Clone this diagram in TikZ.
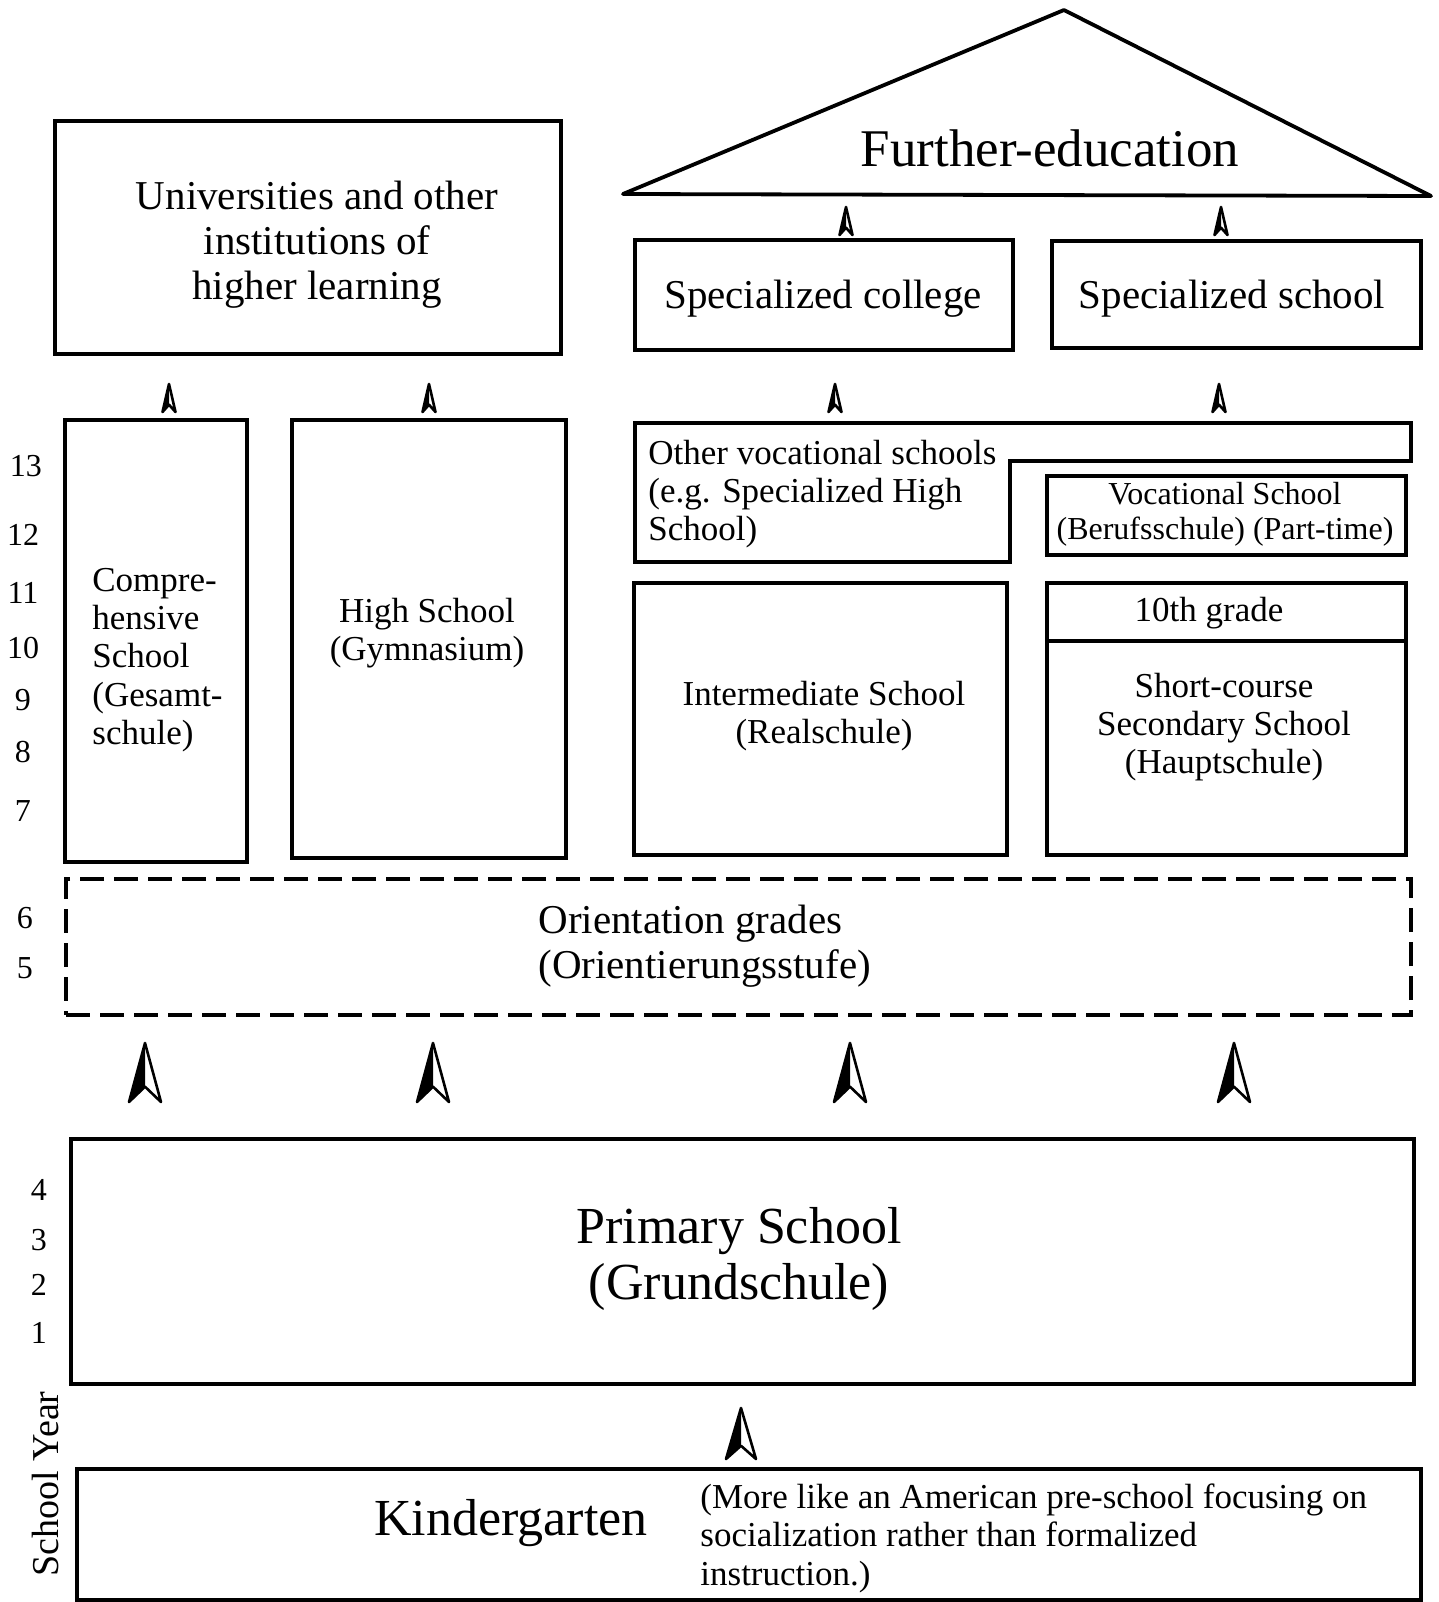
\documentclass[tikz,border=0pt]{standalone}
\usepackage{fontspec}
\setmainfont{Liberation Serif}
\usetikzlibrary{fit}

\newcommand\fsz[2]{\fontsize{#1}{#2}\selectfont}

\tikzset{
  upmark/.pic={
    \draw[line width=1.3pt, line join=round, fill=white]
      (0,1) -- (0.5,0) -- (0,0.26) -- (-0.5,0) -- cycle;
    \fill (0,1) -- (-0.5,0) -- (0,0.26) -- cycle;
  }
}

\begin{document}
\begin{tikzpicture}[x=0.5pt,y=-0.5pt,
  box/.style={draw, line width=1.7pt, inner sep=0pt},
  dbox/.style={box, dash pattern=on 12pt off 5pt},
  lbl/.style={inner sep=0pt, align=center},
  hugetxt/.style={font=\fsz{26}{28}},
  bigtxt/.style={font=\fsz{20.5}{22.5}},
  midtxt/.style={font=\fsz{17.5}{19.2}},
  smalltxt/.style={font=\fsz{16}{17.5}},
  yeartxt/.style={inner sep=0pt, font=\fsz{16}{18}},
  smallmark/.style={x=6.5pt, y=14pt},
  largemark/.style={x=16pt, y=29.5pt}
]
\fill[white] (0,0) rectangle (1439,1602);
\useasboundingbox (0,0) rectangle (1439,1602);

% roof of further education
\draw[line width=1.9pt, line join=round] (623,194) -- (1064,10) -- (1431,196) -- cycle;
\node[lbl, font=\fsz{26.5}{28}] (further) at (1050,148) {Further-education};

% top row
\node[box, fit={(55,121) (561,354)}] (uni) {};
\node[lbl, bigtxt] (unit) at (317,245) {Universities and other\\institutions of\\higher learning};
\node[box, fit={(635,240) (1013,350)}] (scol) {};
\node[lbl, bigtxt] (scolt) at (823,299) {Specialized college};
\node[box, fit={(1052,241) (1421,348)}] (ssch) {};
\node[lbl, bigtxt] (sscht) at (1232,299) {Specialized school};

% secondary schools
\node[box, fit={(65,420) (247,862)}] (comp) {};
\node[lbl, midtxt, align=left, anchor=west] (compt) at (92,660)
  {Compre-\\hensive\\School\\(Gesamt-\\schule)};
\node[box, fit={(292,420) (566,858)}] (gym) {};
\node[lbl, midtxt] (gymt) at (427,633) {High School\\(Gymnasium)};

\draw[line width=1.7pt, line join=miter]
  (635,423) -- (1411,423) -- (1411,461) -- (1010,461) -- (1010,562) -- (635,562) -- cycle;
\coordinate (ovs) at (635,423);
\node[lbl, midtxt, align=left, anchor=west] (ovst) at (648,494)
  {Other vocational schools\\(e.g. Specialized High\\School)};
\node[box, fit={(1047,476) (1406,555)}] (beruf) {};
\node[lbl, smalltxt] (beruft) at (1225,514) {Vocational School\\(Berufsschule) (Part-time)};

\node[box, fit={(634,583) (1007,855)}] (real) {};
\node[lbl, midtxt] (realt) at (824,716) {Intermediate School\\(Realschule)};
\node[box, fit={(1047,583) (1406,855)}] (haupt) {};
\draw[line width=1.7pt] (1047,641) -- (1406,641);
\node[lbl, midtxt] (tenth) at (1209,613) {10th grade};
\node[lbl, midtxt] (hauptt) at (1224,727) {Short-course\\Secondary School\\(Hauptschule)};

% orientation grades
\node[dbox, fit={(66,879) (1411,1015)}] (orient) {};
\node[lbl, bigtxt, align=left, anchor=west] (orientt) at (538,946)
  {Orientation grades\\(Orientierungsstufe)};

% primary and kindergarten
\node[box, fit={(71,1139) (1414,1384)}] (prim) {};
\node[lbl, hugetxt] (primt) at (739,1259) {Primary School\\(Grundschule)};
\node[box, fit={(77,1469) (1421,1600)}] (kind) {};
\node[lbl, hugetxt] (kindt) at (511,1523) {Kindergarten};
\node[lbl, midtxt, align=left, anchor=west] (kindnote) at (700,1538)
  {(More like an American pre-school focusing on\\socialization rather than formalized\\instruction.)};

% arrowheads between the levels
\coordinate (m1) at (846,235);
\coordinate (m2) at (1221,235);
\coordinate (m3) at (169,412);
\coordinate (m4) at (429,412);
\coordinate (m5) at (835,412);
\coordinate (m6) at (1219,412);
\coordinate (m7) at (145,1102);
\coordinate (m8) at (433,1102);
\coordinate (m9) at (850,1102);
\coordinate (m10) at (1234,1102);
\coordinate (m11) at (741,1459);
\foreach \m in {m1,m2,m3,m4,m5,m6}
  \pic[smallmark] at (\m) {upmark};
\foreach \m in {m7,m8,m9,m10}
  \pic[largemark] at (\m) {upmark};
\pic[x=15pt, y=25.5pt] at (m11) {upmark};

% school years
\node[yeartxt] (y13) at (26,466) {13};
\node[yeartxt] (y12) at (23,535) {12};
\node[yeartxt] (y11) at (23,593) {11};
\node[yeartxt] (y10) at (23,648) {10};
\node[yeartxt] (y9) at (23,700) {9};
\node[yeartxt] (y8) at (23,752) {8};
\node[yeartxt] (y7) at (23,811) {7};
\node[yeartxt] (y6) at (25,918) {6};
\node[yeartxt] (y5) at (25,968) {5};
\node[yeartxt] (y4) at (39,1190) {4};
\node[yeartxt] (y3) at (39,1240) {3};
\node[yeartxt] (y2) at (39,1285) {2};
\node[yeartxt] (y1) at (39,1333) {1};
\node[lbl, font=\fsz{19}{20}, rotate=90] (syear) at (46,1484) {School Year};
\end{tikzpicture}
\end{document}
